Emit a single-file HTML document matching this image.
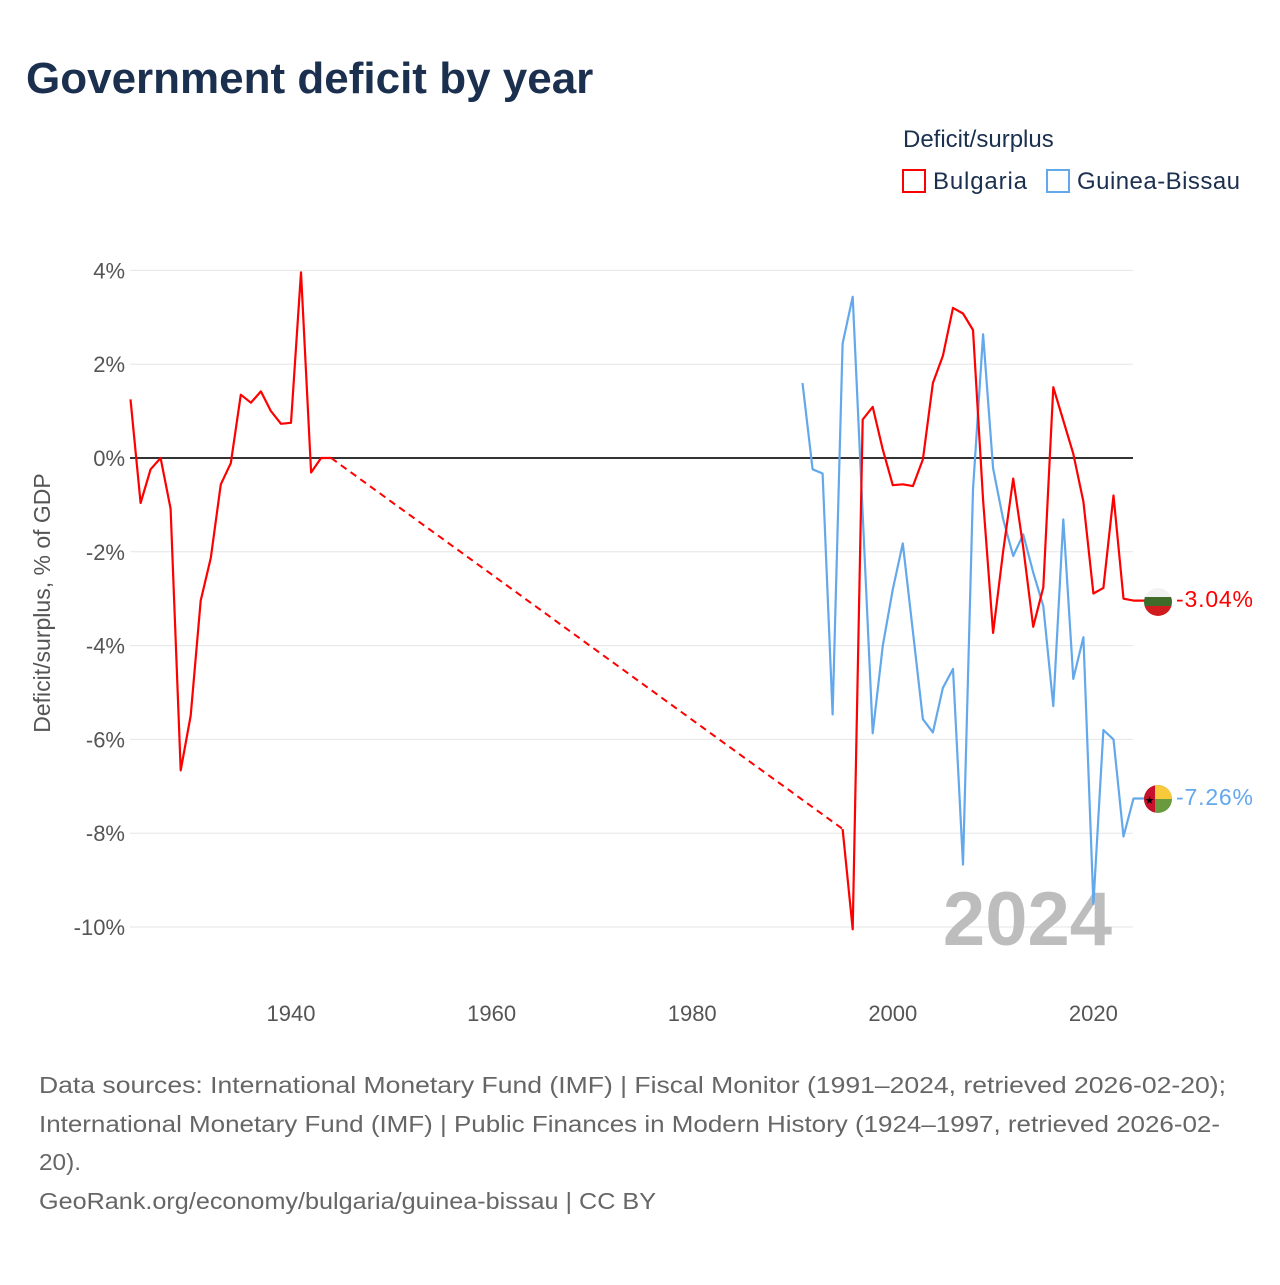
<!DOCTYPE html>
<html><head><meta charset="utf-8"><style>
body{margin:0;background:#fff;font-family:"Liberation Sans",sans-serif;}
svg text{font-family:"Liberation Sans",sans-serif;}
</style></head><body>
<svg id="chart" width="1280" height="1280" xmlns="http://www.w3.org/2000/svg">
<rect width="1280" height="1280" fill="#fff"/>
<text x="26" y="93" font-size="44" font-weight="bold" fill="#1b2f4e">Government deficit by year</text>
<text x="903" y="147" font-size="24" fill="#1b2f4e">Deficit/surplus</text>
<g><rect x="903" y="170" width="22" height="22" fill="none" stroke="#ff0000" stroke-width="2"/><text x="933" y="189" font-size="24" fill="#1b2f4e" textLength="94">Bulgaria</text></g>
<g><rect x="1047" y="170" width="22" height="22" fill="none" stroke="#63a8eb" stroke-width="2"/><text x="1077" y="189" font-size="24" fill="#1b2f4e" textLength="163">Guinea-Bissau</text></g>
<g id="grid"></g>
<text transform="translate(50,603) rotate(-90)" text-anchor="middle" font-size="23" fill="#555">Deficit/surplus, % of GDP</text>
<text x="1112" y="945" text-anchor="end" font-size="76" font-weight="bold" fill="#bdbdbd">2024</text>
<g id="series"></g>
<g>
<clipPath id="c1"><circle cx="1158" cy="602" r="14"/></clipPath>
<g clip-path="url(#c1)"><rect x="1144" y="588" width="28" height="10" fill="#f2f2f2"/><rect x="1144" y="597" width="28" height="10" fill="#3f6b2a"/><rect x="1144" y="606" width="28" height="10" fill="#d01c1f"/></g></g>
<text x="1176" y="607" font-size="23" fill="#ff0000" textLength="77">-3.04%</text>
<g>
<clipPath id="c2"><circle cx="1158" cy="799" r="14"/></clipPath>
<g clip-path="url(#c2)"><rect x="1144" y="785" width="28" height="28" fill="#6a9a3e"/><rect x="1154" y="785" width="18" height="14" fill="#f7c93b"/><rect x="1144" y="785" width="11" height="28" fill="#c8102e"/><text x="1149.5" y="804" font-size="11" text-anchor="middle" fill="#000">★</text></g></g>
<text x="1176" y="805" font-size="23" fill="#63a8eb" textLength="77">-7.26%</text>
<g font-size="23" fill="#666">
<text x="39" y="1093" textLength="1187" lengthAdjust="spacingAndGlyphs">Data sources: International Monetary Fund (IMF) | Fiscal Monitor (1991–2024, retrieved 2026-02-20);</text>
<text x="39" y="1132" textLength="1181" lengthAdjust="spacingAndGlyphs">International Monetary Fund (IMF) | Public Finances in Modern History (1924–1997, retrieved 2026-02-</text>
<text x="39" y="1170" textLength="42" lengthAdjust="spacingAndGlyphs">20).</text>
<text x="39" y="1209" textLength="617" lengthAdjust="spacingAndGlyphs">GeoRank.org/economy/bulgaria/guinea-bissau | CC BY</text>
</g>
</svg>
<script>
const yTicks=[4,2,0,-2,-4,-6,-8,-10];
const xTicks=[1940,1960,1980,2000,2020];
const bgYears1=[1924,1925,1926,1927,1928,1929,1930,1931,1932,1933,1934,1935,1936,1937,1938,1939,1940,1941,1942,1943,1944];
const bgValues1=[1.25,-0.96,-0.24,0,-1.08,-6.66,-5.49,-3.04,-2.13,-0.56,-0.11,1.35,1.18,1.42,1.0,0.73,0.75,3.96,-0.31,0,0];
const bgYears2=[1995,1996,1997,1998,1999,2000,2001,2002,2003,2004,2005,2006,2007,2008,2009,2010,2011,2012,2013,2014,2015,2016,2017,2018,2019,2020,2021,2022,2023,2024];
const bgValues2=[-7.91,-10.05,0.82,1.09,0.18,-0.58,-0.56,-0.6,-0.03,1.6,2.18,3.2,3.08,2.73,-0.9,-3.73,-2.0,-0.44,-1.9,-3.6,-2.76,1.51,0.8,0.09,-0.93,-2.89,-2.77,-0.8,-3.0,-3.04];
const gwYears=[1991,1992,1993,1994,1995,1996,1997,1998,1999,2000,2001,2002,2003,2004,2005,2006,2007,2008,2009,2010,2011,2012,2013,2014,2015,2016,2017,2018,2019,2020,2021,2022,2023,2024];
const gwValues=[1.6,-0.24,-0.33,-5.47,2.44,3.44,-1.2,-5.87,-4.0,-2.8,-1.82,-3.7,-5.57,-5.85,-4.9,-4.5,-8.67,-0.67,2.64,-0.22,-1.3,-2.09,-1.63,-2.44,-3.16,-5.29,-1.31,-4.71,-3.82,-9.51,-5.8,-6.0,-8.07,-7.26];
const X=y=>291+(y-1940)*10.03;
const Y=v=>458-v*46.9;
const NS='http://www.w3.org/2000/svg';
const grid=document.getElementById('grid'),series=document.getElementById('series');
function mk(tag,attrs,parent){const e=document.createElementNS(NS,tag);for(const k in attrs)e.setAttribute(k,attrs[k]);parent.appendChild(e);return e;}
yTicks.forEach(t=>{
 const l=mk('line',{x1:130,x2:1133,y1:Y(t),y2:Y(t),stroke:t===0?'#333':'#e5e5e5','stroke-width':t===0?2:1},grid);
 
 
 const tx=mk('text',{x:125,y:Y(t)+8,'text-anchor':'end','font-size':22,fill:'#555'},grid);
 tx.textContent=t+'%';
 
 
});
xTicks.forEach(t=>{
 const tx=mk('text',{x:X(t),y:1021,'text-anchor':'middle','font-size':22,fill:'#555'},grid);
 tx.textContent=t;
 
 
});
function pts(ys,vs){return ys.map((y,i)=>X(y).toFixed(1)+','+Y(vs[i]).toFixed(1)).join(' ');}
const gw=mk('polyline',{points:pts(gwYears,gwValues)+' 1145,'+Y(gwValues[gwValues.length-1]).toFixed(1),fill:'none',stroke:'#63a8eb','stroke-width':2.2,'stroke-linejoin':'round'},series);


const b1=mk('polyline',{points:pts(bgYears1,bgValues1),fill:'none',stroke:'#ff0000','stroke-width':2.2,'stroke-linejoin':'round'},series);


const n1=bgYears1.length-1;
const gap=mk('line',{x1:X(bgYears1[n1]),y1:Y(bgValues1[n1]),x2:X(bgYears2[0]),y2:Y(bgValues2[0]),stroke:'#ff0000','stroke-width':2,'stroke-dasharray':'7,5'},series);


const b2=mk('polyline',{points:pts(bgYears2,bgValues2)+' 1145,'+Y(bgValues2[bgValues2.length-1]).toFixed(1),fill:'none',stroke:'#ff0000','stroke-width':2.2,'stroke-linejoin':'round'},series);


</script>
</body></html>
